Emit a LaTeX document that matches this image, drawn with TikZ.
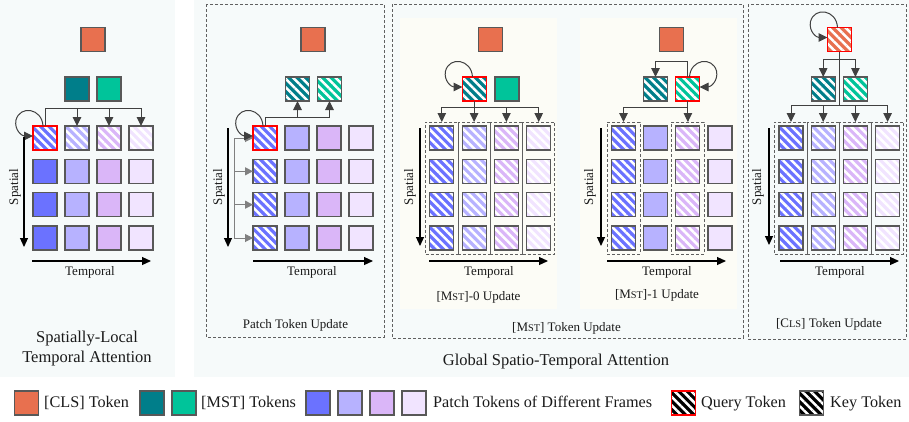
\documentclass[tikz,border=0pt]{standalone}
\usepackage{fontspec}
\setmainfont{Liberation Serif}
\usetikzlibrary{arrows.meta,patterns.meta}

\definecolor{clsc}{HTML}{E8704F}
\definecolor{msta}{HTML}{007E8A}
\definecolor{mstb}{HTML}{00C49A}
\definecolor{pa}{HTML}{6B72FF}
\definecolor{pb}{HTML}{B7B2FF}
\definecolor{pc}{HTML}{DAB6F8}
\definecolor{pd}{HTML}{F1E4FF}
\definecolor{tokb}{HTML}{585858}
\definecolor{linec}{HTML}{404040}
\definecolor{branchc}{HTML}{808080}
\definecolor{tint}{HTML}{F6FAFA}
\definecolor{subtint}{HTML}{FCFCF6}
\definecolor{framec}{HTML}{606060}
\definecolor{textc}{HTML}{1A1A1A}

\newcommand\lblfont{\fontsize{13}{15}\selectfont}
\newcommand\bigfont{\fontsize{16.5}{19}\selectfont}
\newcommand\legfont{\fontsize{16.2}{19}\selectfont}
% first letter full size, the rest as small capitals
\newcommand\smc[2]{#1{\fontsize{10.3}{12}\selectfont #2}}

% self-attention loops attached to a token box
\newcommand\selfloopleft[1]{%
  \draw[arr] ([shift={(10,0)}]#1.north west)
    .. controls +(-1,-18) and +(4,-15) .. ([shift={(-17,-6)}]#1.north west)
    .. controls +(-2,10) and +(-11,0) .. ([shift={(0,10)}]#1.north west);}
\newcommand\selfloopright[1]{%
  \draw[arr] ([shift={(-10,0)}]#1.north east)
    .. controls +(1,-18) and +(-4,-15) .. ([shift={(17,-6)}]#1.north east)
    .. controls +(2,10) and +(11,0) .. ([shift={(0,10)}]#1.north east);}

\tikzset{
  tok/.style={draw=tokb, line width=1.1pt, minimum size=24pt, inner sep=0pt, outer sep=0pt, fill=#1},
  htok/.style={draw=tokb, line width=1.1pt, minimum size=24pt, inner sep=0pt, outer sep=0pt,
    preaction={fill=#1},
    preaction={pattern={Lines[angle=-45,distance=6pt,line width=2.5pt]}, pattern color=white}},
  qtok/.style={htok=#1, draw=red, line width=1.7pt},
  colframe/.style={draw=framec, line width=0.9pt, dash pattern=on 3pt off 2pt,
    minimum width=#1, minimum height=132pt, inner sep=0pt, outer sep=0pt},
  panelframe/.style={draw=framec, line width=0.9pt, dash pattern=on 3pt off 2pt},
  conn/.style={draw=linec, line width=1pt},
  arr/.style={conn, -{Triangle[length=9pt,width=8.5pt]}},
  brarr/.style={draw=branchc, line width=1pt, -{Triangle[length=8pt,width=8pt]}},
  axisarrow/.style={draw=black, line width=1.1pt, -{Triangle[length=9pt,width=8pt]}},
  txt/.style={inner sep=0pt, font=\lblfont, text=textc},
  bigtxt/.style={inner sep=0pt, font=\bigfont, text=textc},
  legtxt/.style={inner sep=0pt, font=\legfont, text=textc, anchor=base west},
}

\begin{document}
\begin{tikzpicture}[x=1pt,y=-1pt]
\useasboundingbox (0,0) rectangle (909,421);

% backgrounds
\fill[tint] (0,0) rectangle (175,377);
\fill[tint] (194,0) rectangle (909,377);
\fill[subtint] (400,18) rectangle (557,309);
\fill[subtint] (580,18) rectangle (737,309);

% dashed panels
\draw[panelframe] (206,4) rectangle (384,337);
\draw[panelframe] (392,4) rectangle (743,338);
\draw[panelframe] (748,4) rectangle (906,339);

% ================= spatially-local temporal attention =================
\node[tok=clsc] (p1cls) at (93,39.5) {};
\node[tok=msta] (p1m0) at (77,89) {};
\node[tok=mstb] (p1m1) at (109,89) {};
\node[qtok=pa] (p1-1-1) at (45,138) {};
\foreach \c/\col in {2/pb,3/pc,4/pd} \node[htok=\col] (p1-1-\c) at ({13+32*\c},138) {};
\foreach \c/\col in {1/pa,2/pb,3/pc,4/pd}
  \foreach \r/\y in {2/171.3,3/204.7,4/238}
    \node[tok=\col] (p1-\r-\c) at ({13+32*\c},\y) {};
\coordinate (p1bus) at (45,108);
\draw[conn] (p1-1-1.north) -- (p1bus) -- (p1bus -| p1-1-4.north);
\foreach \c in {2,3,4} \draw[arr] (p1bus -| p1-1-\c.north) -- (p1-1-\c.north);
\selfloopleft{p1-1-1}
\coordinate (p1s0) at (24,137); \coordinate (p1s1) at (24,247);
\draw[axisarrow] (p1s0) -- (p1s1);
\coordinate (p1t0) at (32,261); \coordinate (p1t1) at (151,261);
\draw[axisarrow] (p1t0) -- (p1t1);
\node[txt, rotate=90] (p1sp) at (15,187) {Spatial};
\node[txt, anchor=base] (p1tp) at (90,275) {Temporal};
\node[bigtxt, anchor=base] (p1l1) at (87,342) {Spatially-Local};
\node[bigtxt, anchor=base] (p1l2) at (87,362) {Temporal Attention};

% ================= patch token update =================
\node[tok=clsc] (p2cls) at (313,39.5) {};
\node[htok=msta] (p2m0) at (297.5,89) {};
\node[htok=mstb] (p2m1) at (329.5,89) {};
\node[qtok=pa] (p2-1-1) at (265,138) {};
\foreach \r/\y in {2/171.3,3/204.7,4/238} \node[htok=pa] (p2-\r-1) at (265,\y) {};
\foreach \c/\col in {2/pb,3/pc,4/pd}
  \foreach \r/\y in {1/138,2/171.3,3/204.7,4/238}
    \node[tok=\col] (p2-\r-\c) at ({233+32*\c},\y) {};
\coordinate (p2bus) at (265,117);
\draw[conn] (p2-1-1.north) -- (p2bus) -- (p2bus -| p2m1.south);
\draw[arr] (p2bus -| p2m0.south) -- (p2m0.south);
\draw[arr] (p2bus -| p2m1.south) -- (p2m1.south);
\coordinate (p2br) at (234,138);
\draw[draw=branchc, line width=1pt] (p2br) -- (p2br |- p2-4-1.west);
\foreach \r in {1,2,3,4} \draw[brarr] (p2br |- p2-\r-1.west) -- (p2-\r-1.west);
\selfloopleft{p2-1-1}
\coordinate (p2s0) at (228,128); \coordinate (p2s1) at (228,247);
\draw[axisarrow] (p2s0) -- (p2s1);
\coordinate (p2t0) at (253,261); \coordinate (p2t1) at (373,261);
\draw[axisarrow] (p2t0) -- (p2t1);
\node[txt, rotate=90] (p2sp) at (219,187) {Spatial};
\node[txt, anchor=base] (p2tp) at (312,275) {Temporal};
\node[txt, anchor=base] (p2lab) at (295.5,328) {Patch Token Update};

% ================= [MST]-0 update =================
\node[tok=clsc] (p3acls) at (490.5,39.5) {};
\node[qtok=msta] (p3am0) at (474.5,89) {};
\node[tok=mstb] (p3am1) at (507,89) {};
\foreach \c/\col in {1/pa,2/pb,3/pc,4/pd} {
  \node[colframe=32.3pt] (p3af-\c) at ({409.5+32.3*\c},188) {};
  \foreach \r/\y in {1/138,2/171.3,3/204.7,4/238}
    \node[htok=\col] (p3a-\r-\c) at ({409.5+32.3*\c},\y) {};
}
\coordinate (p3abus) at (474.5,107);
\draw[conn] (p3am0.south) -- (p3abus);
\draw[conn] (p3abus -| p3af-1.north) -- (p3abus -| p3af-4.north);
\foreach \c in {1,2,3,4} \draw[arr] (p3abus -| p3af-\c.north) -- (p3af-\c.north);
\selfloopleft{p3am0}
\coordinate (p3as0) at (420,128); \coordinate (p3as1) at (420,246);
\draw[axisarrow] (p3as0) -- (p3as1);
\coordinate (p3at0) at (429,261); \coordinate (p3at1) at (548,261);
\draw[axisarrow] (p3at0) -- (p3at1);
\node[txt, rotate=90] (p3asp) at (410,187) {Spatial};
\node[txt, anchor=base] (p3atp) at (489,275) {Temporal};
\node[txt, anchor=base] (p3alab) at (478.5,300.5) {[\smc{M}{ST}]-0 Update};

% ================= [MST]-1 update =================
\node[tok=clsc] (p3bcls) at (671.5,39.5) {};
\node[htok=msta] (p3bm0) at (655.5,89) {};
\node[qtok=mstb] (p3bm1) at (687.5,89) {};
\node[colframe=33pt] (p3bf-1) at (623.5,188) {};
\node[colframe=33pt] (p3bf-3) at (687.9,188) {};
\foreach \r/\y in {1/138,2/171.3,3/204.7,4/238} {
  \node[htok=pa] (p3b-\r-1) at (623.5,\y) {};
  \node[tok=pb]  (p3b-\r-2) at (655.7,\y) {};
  \node[htok=pc] (p3b-\r-3) at (687.9,\y) {};
  \node[tok=pd]  (p3b-\r-4) at (720,\y) {};
}
\coordinate (p3btop) at (687.5,61);
\draw[arr] (p3bm1.north) -- (p3btop) -| (p3bm0.north);
\coordinate (p3bbus) at (687.9,107);
\draw[arr] (p3bm1.south -| p3bf-3.north) -- (p3bf-3.north);
\draw[arr] (p3bbus) -| (p3bf-1.north);
\selfloopright{p3bm1}
\coordinate (p3bs0) at (601,128); \coordinate (p3bs1) at (601,246);
\draw[axisarrow] (p3bs0) -- (p3bs1);
\coordinate (p3bt0) at (607,261); \coordinate (p3bt1) at (726,261);
\draw[axisarrow] (p3bt0) -- (p3bt1);
\node[txt, rotate=90] (p3bsp) at (590,187) {Spatial};
\node[txt, anchor=base] (p3btp) at (667,275) {Temporal};
\node[txt, anchor=base] (p3blab) at (657,298.5) {[\smc{M}{ST}]-1 Update};

\node[txt, anchor=base] (p3lab) at (566.5,331) {[\smc{M}{ST}] Token Update};

% ================= [CLS] token update =================
\node[qtok=clsc] (p4q) at (839.5,39.5) {};
\node[htok=msta] (p4m0) at (823.2,89) {};
\node[htok=mstb] (p4m1) at (855.4,89) {};
\foreach \c/\col in {1/pa,2/pb,3/pc,4/pd} {
  \node[colframe=32.3pt] (p4f-\c) at ({758.8+32.2*\c},188) {};
  \foreach \r/\y in {1/138,2/171.3,3/204.7,4/238}
    \node[htok=\col] (p4-\r-\c) at ({758.8+32.2*\c},\y) {};
}
\coordinate (p4b1) at (839.5,59);
\coordinate (p4b2) at (839.5,105);
\draw[conn] (p4q.south) -- (p4b2);
\draw[conn] (p4b1 -| p4m0.north) -- (p4b1 -| p4m1.north);
\draw[arr] (p4b1 -| p4m0.north) -- (p4m0.north);
\draw[arr] (p4b1 -| p4m1.north) -- (p4m1.north);
\draw[conn] (p4b2 -| p4f-1.north) -- (p4b2 -| p4f-4.north);
\foreach \c in {1,2,3,4} \draw[arr] (p4b2 -| p4f-\c.north) -- (p4f-\c.north);
\selfloopleft{p4q}
\coordinate (p4s0) at (769,128); \coordinate (p4s1) at (769,245);
\draw[axisarrow] (p4s0) -- (p4s1);
\coordinate (p4t0) at (780,261); \coordinate (p4t1) at (899,261);
\draw[axisarrow] (p4t0) -- (p4t1);
\node[txt, rotate=90] (p4sp) at (758,187) {Spatial};
\node[txt, anchor=base] (p4tp) at (840,275) {Temporal};
\node[txt, anchor=base] (p4lab) at (829,327.5) {[\smc{C}{LS}] Token Update};

\node[bigtxt, anchor=base] (glab) at (556,365) {Global Spatio-Temporal Attention};

% ================= legend =================
\node[tok=clsc] (lgcls) at (26.5,403) {};
\node[legtxt] (lgclst) at (44,407) {[CLS] Token};
\node[tok=msta] (lgm0) at (152,403) {};
\node[tok=mstb] (lgm1) at (184,403) {};
\node[legtxt] (lgmt) at (201,407) {[MST] Tokens};
\node[tok=pa] (lgp1) at (318,403) {};
\node[tok=pb] (lgp2) at (350,403) {};
\node[tok=pc] (lgp3) at (382,403) {};
\node[tok=pd] (lgp4) at (414,403) {};
\node[legtxt] (lgpt) at (433,407) {Patch Tokens of Different Frames};
\node[qtok=black] (lgq) at (683.5,403) {};
\node[legtxt] (lgqt) at (701,407) {Query Token};
\node[htok=black] (lgk) at (811.5,403) {};
\node[legtxt] (lgkt) at (830,407) {Key Token};
\end{tikzpicture}
\end{document}
